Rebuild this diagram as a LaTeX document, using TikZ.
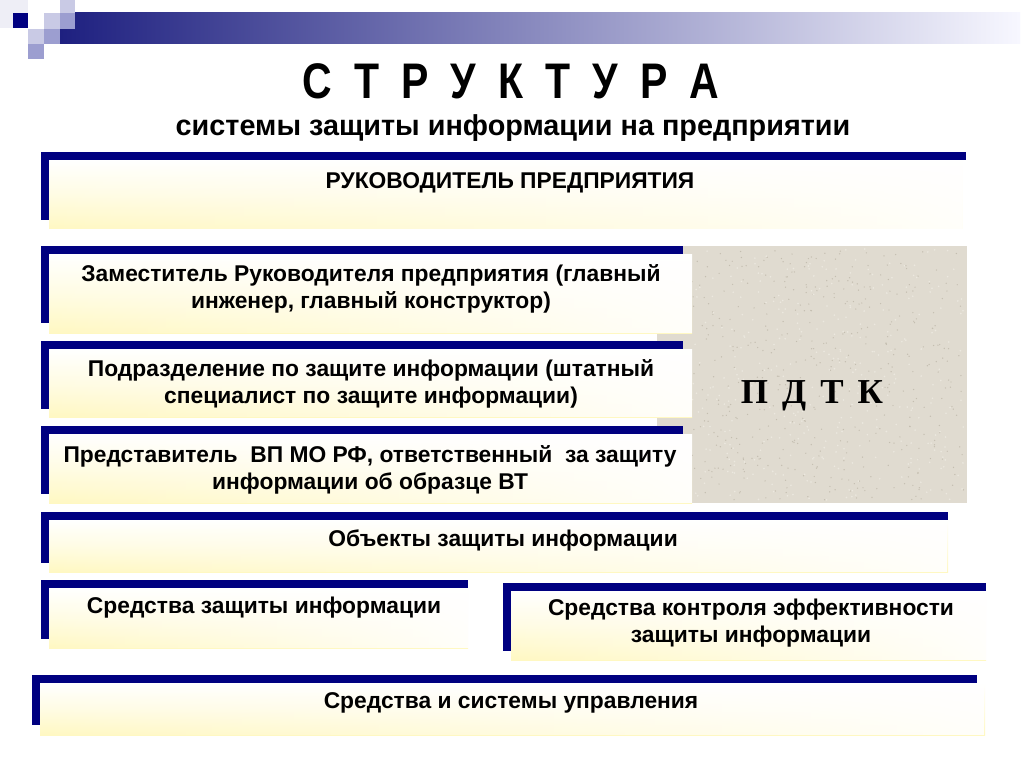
\documentclass[tikz,border=0pt]{standalone}
\usepackage{fontspec}
\usetikzlibrary{fadings}
\setmainfont{Liberation Sans}
\newfontfamily\narrowfont[FakeStretch=0.82]{Liberation Sans}
\newfontfamily\serifbold{Liberation Serif}
\definecolor{navy}{HTML}{000080}
\definecolor{sqlight}{HTML}{C9CAE5}
\definecolor{sqmid}{HTML}{9C9ED0}
\definecolor{sqfaint}{HTML}{EEEEF6}
\definecolor{barleft}{HTML}{1E2080}
\definecolor{pdtkgray}{HTML}{E0DBD0}
\definecolor{speckdark}{HTML}{C4BEB0}
\definecolor{specklight}{HTML}{ECE8DF}
\definecolor{fillyellow}{HTML}{FFF8C2}
\tikzset{
  navybar/.style={fill=navy, draw=none},
  boxfill/.style={draw=none, top color=white, bottom color=fillyellow, middle color=fillyellow!45},
  whitefade/.style={draw=none, fill=white, path fading=west, fill opacity=0.92},
  boxtext/.style={font=\bfseries\fontsize{22.8}{27}\selectfont, align=center, inner sep=0pt, text=black},
}
% box: #1 left x, #2 top y, #3 bar right x, #4 left bar bottom y, #5 fill right x, #6 fill bottom y
\newcommand{\myframebox}[6]{%
  \path[boxfill] (#1+8,#2+8) rectangle (#5,#6);
  \path[whitefade] (#1+8,#2+8) rectangle (#5+0.6,#6+0.3);
  \path[navybar] (#1,#2) rectangle (#3,#2+8);
  \path[navybar] (#1,#2) rectangle (#1+8,#4);
}
\begin{document}
\begin{tikzpicture}[x=1pt,y=-1pt]
\useasboundingbox (0,0) rectangle (1024,767);
\fill[white] (0,0) rectangle (1024,767);
% header decoration
\shade[left color=barleft, right color=white!97!blue, shading=axis] (60,13) rectangle (1020,44);
\fill[sqfaint] (0,0) rectangle (28,28);
\fill[navy] (13,13) rectangle (28,28);
\fill[sqlight] (44,13) rectangle (60,29);
\fill[sqlight] (60,0) rectangle (75,13);
\fill[sqmid] (60,13) rectangle (75,29);
\fill[sqlight] (28,29) rectangle (44,44);
\fill[sqmid] (44,29) rectangle (60,44);
\fill[sqmid] (28,44) rectangle (44,59);
% title
\node[font=\narrowfont\bfseries\fontsize{50}{50}\selectfont, inner sep=0pt] (title) at (511,81)
  {С\hspace{22pt}Т\hspace{22pt}Р\hspace{22pt}У\hspace{22pt}К\hspace{22pt}Т\hspace{22pt}У\hspace{22pt}Р\hspace{22pt}А};
\node[font=\bfseries\fontsize{28.8}{30}\selectfont, inner sep=0pt] (subtitle) at (513,128)
  {системы защиты информации на предприятии};
% PDTK background with speckle texture
\fill[pdtkgray] (657,246) rectangle (967,503);
\pgfmathsetseed{7}
\foreach \i in {1,...,450} {
  \pgfmathsetmacro{\rx}{692+272*rnd}
  \pgfmathsetmacro{\ry}{249+251*rnd}
  \fill[speckdark] (\rx,\ry) circle (0.7);
}
\foreach \i in {1,...,350} {
  \pgfmathsetmacro{\rx}{692+272*rnd}
  \pgfmathsetmacro{\ry}{249+251*rnd}
  \fill[specklight] (\rx,\ry) circle (0.9);
}
% boxes
\myframebox{41}{152}{966}{220}{962}{229}
\myframebox{41}{246}{683}{323}{692}{333}
\myframebox{41}{341}{683}{409}{692}{417}
\myframebox{41}{426}{683}{494}{692}{503}
\myframebox{41}{512}{948}{563}{948}{572}
\myframebox{41}{580}{468}{639}{468}{648}
\myframebox{503}{583}{986}{651}{986}{660}
\myframebox{32}{675}{977}{725}{985}{735}
% texts
\node[boxtext] (head) at (510,183) {РУКОВОДИТЕЛЬ ПРЕДПРИЯТИЯ};
\node[boxtext] (deputy) at (371,289) {Заместитель Руководителя предприятия (главный\\инженер, главный конструктор)};
\node[boxtext] (division) at (371,384) {Подразделение по защите информации (штатный\\специалист по защите информации)};
\node[boxtext] (rep) at (370,470) {Представитель\ \ ВП МО РФ, ответственный\ \ за защиту\\информации об образце ВТ};
\node[boxtext] (objects) at (503,541) {Объекты защиты информации};
\node[boxtext] (means) at (264,608) {Средства защиты информации};
\node[boxtext] (control) at (751,623) {Средства контроля эффективности\\защиты информации};
\node[boxtext] (mgmt) at (511,703) {Средства и системы управления};
\node[font=\serifbold\bfseries\fontsize{35}{35}\selectfont, inner sep=0pt] (pdtk) at (812,396) {П\hspace{14pt}Д\hspace{14pt}Т\hspace{14pt}К};
\end{tikzpicture}
\end{document}
